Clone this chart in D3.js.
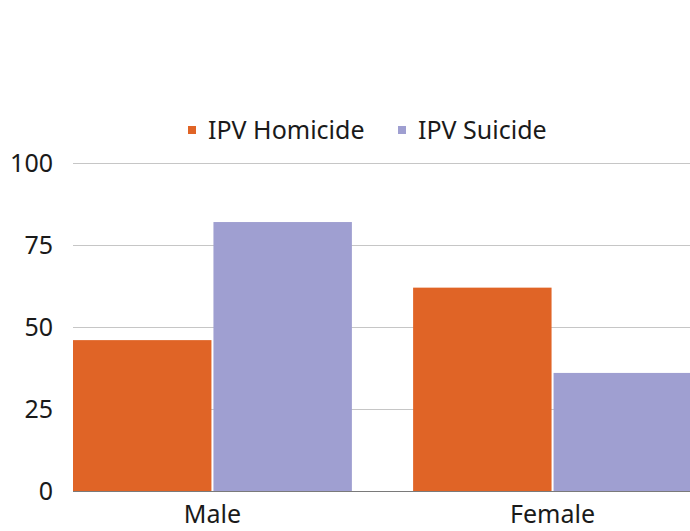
<!DOCTYPE html>
<html>
<head>
<meta charset="utf-8">
<script src="https://cdn.jsdelivr.net/npm/d3@7"></script>
<style>
  html, body { margin: 0; padding: 0; background: #fff; }
  svg { display: block; font-family: "Noto Sans", "Open Sans", sans-serif; }
</style>
</head>
<body>
<svg id="chart" width="690" height="531"></svg>
<script>
const categories = ["Male", "Female"]
const seriesNames = ["IPV Homicide", "IPV Suicide"]
const homicide = [46, 62]
const suicide = [82, 36]
const yTicks = [0, 25, 50, 75, 100]

const colors = { "IPV Homicide": "#e06426", "IPV Suicide": "#9f9fd1" }

const width = 690
const height = 531
const margin = { top: 163, right: -2, bottom: 40, left: 73 }
const fontSize = 25

const svg = d3.select("#chart")

const data = categories.map((c, i) => ({
  cat: c,
  values: [
    { key: seriesNames[0], value: homicide[i] },
    { key: seriesNames[1], value: suicide[i] }
  ]
}))

const x0 = d3.scaleBand()
  .domain(categories)
  .range([margin.left, width - margin.right])
  .paddingInner(0.18)
  .paddingOuter(0)

const x1 = d3.scaleBand()
  .domain(seriesNames)
  .range([0, x0.bandwidth()])

const y = d3.scaleLinear()
  .domain([0, 100])
  .range([height - margin.bottom, margin.top])

// gridlines
svg.append("g")
  .selectAll("line")
  .data(yTicks.filter(d => d > 0))
  .join("line")
  .attr("x1", margin.left)
  .attr("x2", width)
  .attr("y1", d => Math.round(y(d)) + 0.5)
  .attr("y2", d => Math.round(y(d)) + 0.5)
  .attr("stroke", "#c6c6c6")
  .attr("stroke-width", 1)

// y tick labels
svg.append("g")
  .selectAll("text")
  .data(yTicks)
  .join("text")
  .attr("x", 53)
  .attr("y", d => y(d))
  .attr("dy", "0.35em")
  .attr("text-anchor", "end")
  .attr("font-size", fontSize)
  .attr("fill", "#1a1a1a")
  .text(d => d)

// bars
const groups = svg.append("g")
  .selectAll("g")
  .data(data)
  .join("g")
  .attr("transform", d => `translate(${x0(d.cat)},0)`)

groups.selectAll("rect")
  .data(d => d.values)
  .join("rect")
  .attr("x", d => x1(d.key) + (d.key === seriesNames[1] ? 1 : 0))
  .attr("width", x1.bandwidth() - 1)
  .attr("y", d => y(d.value))
  .attr("height", d => y(0) - y(d.value))
  .attr("fill", d => colors[d.key])

// baseline
svg.append("line")
  .attr("x1", margin.left)
  .attr("x2", width)
  .attr("y1", Math.round(y(0)) + 0.5)
  .attr("y2", Math.round(y(0)) + 0.5)
  .attr("stroke", "#7a7a7a")
  .attr("stroke-width", 1)

// x labels
svg.append("g")
  .selectAll("text")
  .data(categories)
  .join("text")
  .attr("x", d => x0(d) + x0.bandwidth() / 2)
  .attr("y", 523)
  .attr("text-anchor", "middle")
  .attr("font-size", fontSize)
  .attr("fill", "#1a1a1a")
  .text(d => d)

// legend
const legendPos = [188, 398]
const legend = svg.append("g")
  .selectAll("g")
  .data(seriesNames)
  .join("g")
  .attr("transform", (d, i) => `translate(${legendPos[i]},130)`)

legend.append("rect")
  .attr("x", 0)
  .attr("y", -4)
  .attr("width", 8)
  .attr("height", 8)
  .attr("fill", d => colors[d])

legend.append("text")
  .attr("x", 20)
  .attr("y", 0)
  .attr("dy", "0.35em")
  .attr("font-size", fontSize)
  .attr("fill", "#1a1a1a")
  .text(d => d)
</script>
</body>
</html>
